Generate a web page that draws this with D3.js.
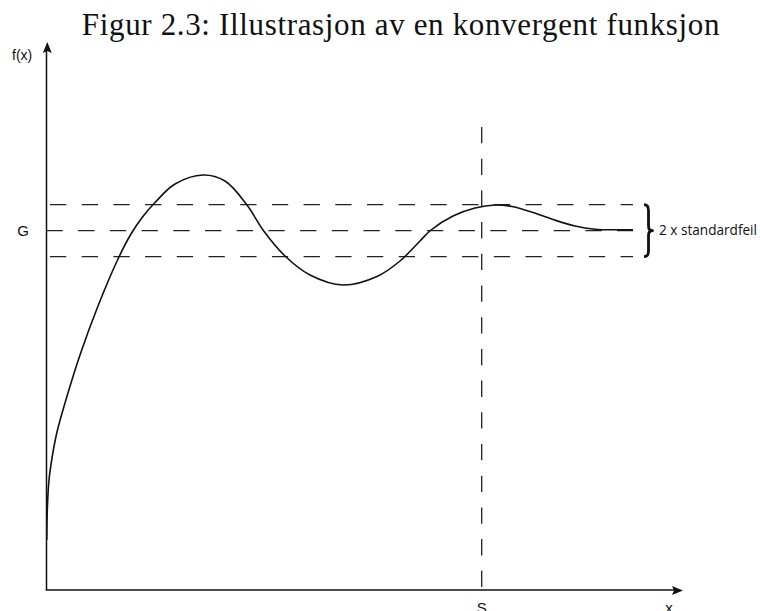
<!DOCTYPE html>
<html>
<head>
<meta charset="utf-8">
<script src="https://cdn.jsdelivr.net/npm/d3@7"></script>
<style>
  html, body { margin: 0; padding: 0; background: #fff; }
  svg { display: block; }
</style>
</head>
<body>
<svg id="chart" width="760" height="611"></svg>
<script>
// ---- Data (abstract units) ----
const titleText = "Figur 2.3: Illustrasjon av en konvergent funksjon";
const axisLabels = { y: "f(x)", x: "x" };
const limitLabel = "G";
const stepLabel = "S";
const bandLabel = "2 x standardfeil";

const G = 35.93;          // limit value
const stdErr = 2.6;       // half band width
const S = 43.52;          // x where function is within the band
const xMax = 63.65;       // end of x axis
const yMax = 54.8;        // end of y axis
const bandStart = 0.35;   // where dashed band lines start
const bandEnd = 58.65;    // where dashed band lines end
const sTop = 46.3;        // top of vertical dashed line

const curveX = [0.03, 0.08, 0.25, 0.6, 1.05, 1.85, 3.35, 5.15, 7.15, 8.45, 9.6, 10.85, 12.85, 15.65, 17.85, 20.05, 21.65, 23.85, 26.35, 29.65, 33.05, 35.35, 37.35, 38.45, 40.65, 42.85, 44.85, 46.55, 48.35, 50.65, 52.85, 54.85, 56.85, 58.65];
const curveY = [5.0, 8.0, 11.0, 13.5, 15.8, 18.7, 23.5, 28.4, 33.1, 35.6, 37.3, 38.75, 40.6, 41.5, 40.9, 38.5, 36.0, 33.4, 31.5, 30.5, 31.35, 32.9, 34.9, 36.0, 37.4, 38.2, 38.5, 38.35, 37.85, 37.05, 36.4, 36.08, 36.02, 36.02];

// ---- Scales ----
const x = d3.scaleLinear().domain([0, 64]).range([46.5, 686.5]);
const y = d3.scaleLinear().domain([0, yMax]).range([590, 42]);

const svg = d3.select("#chart");
const ink = "#111";

// Title
svg.append("text")
  .attr("x", 401).attr("y", 35)
  .attr("text-anchor", "middle")
  .attr("font-family", "'Liberation Serif', 'Times New Roman', serif")
  .attr("font-size", 31)
  .attr("letter-spacing", 0.65)
  .attr("fill", "#111")
  .text(titleText);

// Dashed band lines
const dash = "16.3,15.4";
[G + stdErr, G - stdErr].forEach(v => {
  svg.append("line")
    .attr("x1", x(bandStart)).attr("x2", x(bandEnd))
    .attr("y1", y(v)).attr("y2", y(v))
    .attr("stroke", "#222").attr("stroke-width", 1.3)
    .attr("stroke-dasharray", dash);
});
svg.append("line")
  .attr("x1", x(0)).attr("x2", x(bandEnd))
  .attr("y1", y(G)).attr("y2", y(G))
  .attr("stroke", "#222").attr("stroke-width", 1.3)
  .attr("stroke-dasharray", dash);

// Vertical dashed line at S
svg.append("line")
  .attr("x1", x(S)).attr("x2", x(S))
  .attr("y1", y(sTop)).attr("y2", y(0))
  .attr("stroke", "#222").attr("stroke-width", 1.3)
  .attr("stroke-dasharray", dash);

// Axes
svg.append("line")
  .attr("x1", x(0)).attr("x2", x(0))
  .attr("y1", y(0)).attr("y2", y(yMax) + 8)
  .attr("stroke", ink).attr("stroke-width", 1.5);
svg.append("line")
  .attr("x1", x(0) - 0.75).attr("x2", x(xMax) - 8)
  .attr("y1", y(0)).attr("y2", y(0))
  .attr("stroke", ink).attr("stroke-width", 1.5);

// Arrowheads
const ax = x(0) + 0.8, ay = y(yMax);
svg.append("path")
  .attr("d", `M${ax},${ay} L${ax - 4.5},${ay + 11} L${ax},${ay + 9} L${ax + 4.5},${ay + 11} Z`)
  .attr("fill", ink);
const bx = x(xMax), by = y(0) + 0.5;
svg.append("path")
  .attr("d", `M${bx},${by} L${bx - 11},${by - 4.5} L${bx - 9},${by} L${bx - 11},${by + 4.5} Z`)
  .attr("fill", ink);

// Curve
const pts = curveX.map((d, i) => [d, curveY[i]]);
const line = d3.line()
  .x(d => x(d[0])).y(d => y(d[1]))
  .curve(d3.curveCatmullRom.alpha(0.5));
svg.append("path")
  .datum(pts)
  .attr("d", line)
  .attr("fill", "none")
  .attr("stroke", ink)
  .attr("stroke-width", 1.6);

// Brace
const bxL = x(bandEnd) + 11;
const yT = y(G + stdErr), yM = y(G), yB = y(G - stdErr);
const bw = 4.5;
svg.append("path")
  .attr("d", `M${bxL},${yT} Q${bxL + bw},${yT} ${bxL + bw},${yT + 6} L${bxL + bw},${yM - 5} Q${bxL + bw},${yM} ${bxL + bw + 4},${yM} Q${bxL + bw},${yM} ${bxL + bw},${yM + 5} L${bxL + bw},${yB - 6} Q${bxL + bw},${yB} ${bxL},${yB}`)
  .attr("fill", "none")
  .attr("stroke", ink)
  .attr("stroke-width", 2.8)
  .attr("stroke-linejoin", "round");

// Labels
const sans = "'Liberation Sans', Arial, sans-serif";
svg.append("text")
  .attr("x", 12).attr("y", 60)
  .attr("font-family", sans).attr("font-size", 14).attr("fill", ink)
  .text(axisLabels.y);
svg.append("text")
  .attr("x", 23).attr("y", y(G) + 5.5)
  .attr("text-anchor", "middle")
  .attr("font-family", sans).attr("font-size", 15).attr("fill", ink)
  .text(limitLabel);
svg.append("text")
  .attr("x", x(S)).attr("y", 613)
  .attr("text-anchor", "middle")
  .attr("font-family", sans).attr("font-size", 15).attr("fill", ink)
  .text(stepLabel);
svg.append("text")
  .attr("x", x(xMax) - 14).attr("y", 613)
  .attr("text-anchor", "middle")
  .attr("font-family", sans).attr("font-size", 15).attr("fill", ink)
  .text(axisLabels.x);
svg.append("text")
  .attr("x", bxL + 15).attr("y", y(G) + 4.5)
  .attr("font-family", "'Open Sans', sans-serif").attr("font-size", 13.6).attr("fill", ink)
  .text(bandLabel);
</script>
</body>
</html>
